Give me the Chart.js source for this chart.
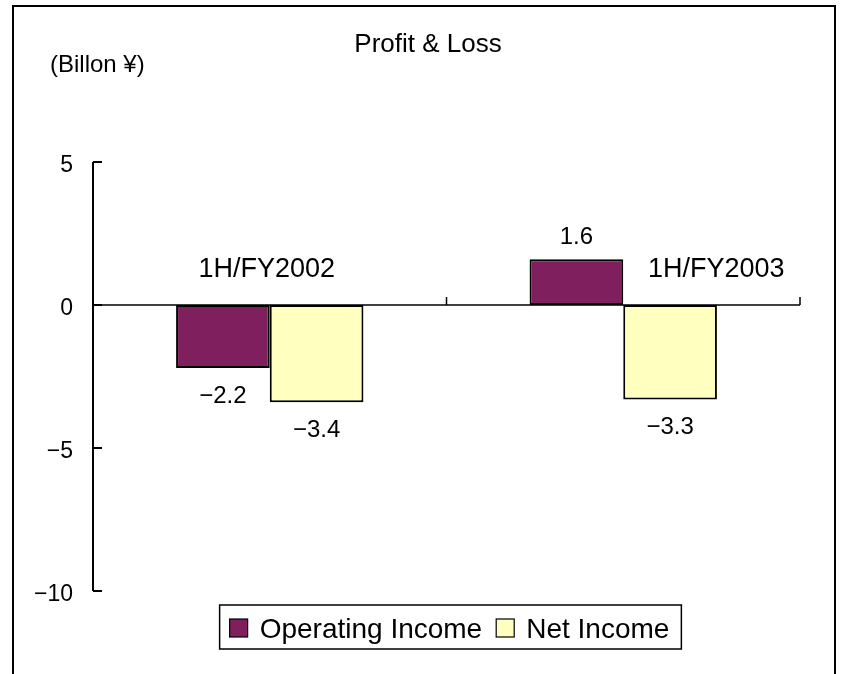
<!DOCTYPE html>
<html>
<head>
<meta charset="utf-8">
<script src="https://cdn.jsdelivr.net/npm/chart.js@4.4.0/dist/chart.umd.min.js"></script>
<style>
  body { margin: 0; background: #fff; }
  #wrap { width: 845px; height: 674px; position: relative; }
</style>
</head>
<body>
<div id="wrap"><canvas id="chart"></canvas></div>
<script>
const categories = ["1H/FY2002", "1H/FY2003"];
const operatingIncome = [-2.2, 1.6];
const netIncome = [-3.4, -3.3];
const yTicks = [-10, -5, 0, 5];
const seriesNames = ["Operating Income", "Net Income"];

const purple = "#801f5e";
const yellow = "#ffffc0";
const font = "'Liberation Sans', Arial, sans-serif";

// minus sign like the original
const fmt = v => String(v).replace("-", "\u2212");

// frame, titles, labels, axes, legend
const decor = {
    id: "decor",
    beforeDraw(c) {
        const ctx = c.ctx;
        ctx.save();
        ctx.strokeStyle = "#000";
        ctx.lineWidth = 2;
        ctx.beginPath();
        ctx.moveTo(13, 700);
        ctx.lineTo(13, 6);
        ctx.lineTo(835, 6);
        ctx.lineTo(835, 700);
        ctx.stroke();

        ctx.fillStyle = "#000";
        ctx.textBaseline = "alphabetic";
        ctx.font = "26px " + font;
        ctx.textAlign = "center";
        ctx.fillText("Profit & Loss", 428, 52);
        ctx.font = "24px " + font;
        ctx.textAlign = "left";
        ctx.fillText("(Billon \u00a5)", 50, 72);
        ctx.restore();
    },
    afterDatasetsDraw(c) {
        const ctx = c.ctx;
        const x = c.scales.x, y = c.scales.y;
        const area = c.chartArea;
        const y0 = y.getPixelForValue(0);
        ctx.save();

        // axes
        ctx.strokeStyle = "#000";
        ctx.lineWidth = 1.5;
        ctx.beginPath();
        ctx.moveTo(area.left, y0);
        ctx.lineTo(area.right, y0);
        const mid = (x.getPixelForValue(0) + x.getPixelForValue(1)) / 2;
        [mid, area.right].forEach(px => {
            ctx.moveTo(px, y0);
            ctx.lineTo(px, y0 - 8);
        });
        ctx.stroke();

        ctx.lineWidth = 2;
        ctx.beginPath();
        ctx.moveTo(area.left, y.getPixelForValue(yTicks[yTicks.length - 1]));
        ctx.lineTo(area.left, y.getPixelForValue(yTicks[0]));
        yTicks.forEach(t => {
            const py = y.getPixelForValue(t);
            ctx.moveTo(area.left, py);
            ctx.lineTo(area.left + 9, py);
        });
        ctx.stroke();

        // category labels (second one sits to the right of its bar)
        const shift = [-3, 93];
        ctx.fillStyle = "#000";
        ctx.font = "27px " + font;
        ctx.textAlign = "center";
        ctx.textBaseline = "alphabetic";
        categories.forEach((cat, i) => {
            ctx.fillText(cat, x.getPixelForValue(i) + shift[i], y0 - 28);
        });

        // value labels
        ctx.font = "24px " + font;
        c.data.datasets.forEach((ds, di) => {
            c.getDatasetMeta(di).data.forEach((bar, i) => {
                const v = ds.data[i];
                const ty = v < 0 ? bar.y + 35 : bar.y - 15;
                ctx.fillText(fmt(v), bar.x, ty);
            });
        });

        // legend box
        ctx.font = "28px " + font;
        const colors = [purple, yellow];
        const w0 = ctx.measureText(seriesNames[0]).width;
        const w1 = ctx.measureText(seriesNames[1]).width;
        const total = 10 + 18 + 12 + w0 + 14 + 18 + 12 + w1 + 12;
        const lx = (area.left + area.right) / 2 + 4 - total / 2;
        const ly = area.bottom + 14;
        ctx.lineWidth = 1.5;
        ctx.strokeRect(lx, ly, total, 44);
        let cx = lx + 10;
        [w0, w1].forEach((w, i) => {
            ctx.fillStyle = colors[i];
            ctx.fillRect(cx, ly + 14, 18, 18);
            ctx.lineWidth = 1.2;
            ctx.strokeRect(cx, ly + 14, 18, 18);
            ctx.fillStyle = "#000";
            ctx.textAlign = "left";
            ctx.fillText(seriesNames[i], cx + 30, ly + 33);
            cx += 30 + w + 14;
        });
        ctx.restore();
    }
};

new Chart(document.querySelector("#chart"), {
    type: "bar",
    data: {
        labels: categories,
        datasets: [
            {
                label: seriesNames[0],
                data: operatingIncome,
                backgroundColor: purple,
                borderColor: "#000",
                borderWidth: 2,
                borderSkipped: false
            },
            {
                label: seriesNames[1],
                data: netIncome,
                backgroundColor: yellow,
                borderColor: "#000",
                borderWidth: 2,
                borderSkipped: false
            }
        ]
    },
    options: {
        responsive: true,
        maintainAspectRatio: false,
        animation: false,
        categoryPercentage: 0.53,
        barPercentage: 1,
        layout: { padding: { top: 162, bottom: 83, left: 0, right: 45 } },
        plugins: {
            legend: { display: false },
            title: { display: false },
            tooltip: { enabled: false }
        },
        scales: {
            x: { display: false },
            y: {
                min: -10,
                max: 5,
                afterFit: s => { s.width = 93; },
                afterBuildTicks: s => { s.ticks = yTicks.map(v => ({ value: v })); },
                grid: { display: false, drawTicks: false },
                border: { display: false },
                ticks: {
                    padding: 20,
                    labelOffset: 4,
                    color: "#000",
                    font: { family: font, size: 23 },
                    callback: v => fmt(v)
                }
            }
        }
    },
    plugins: [decor]
});
</script>
</body>
</html>
